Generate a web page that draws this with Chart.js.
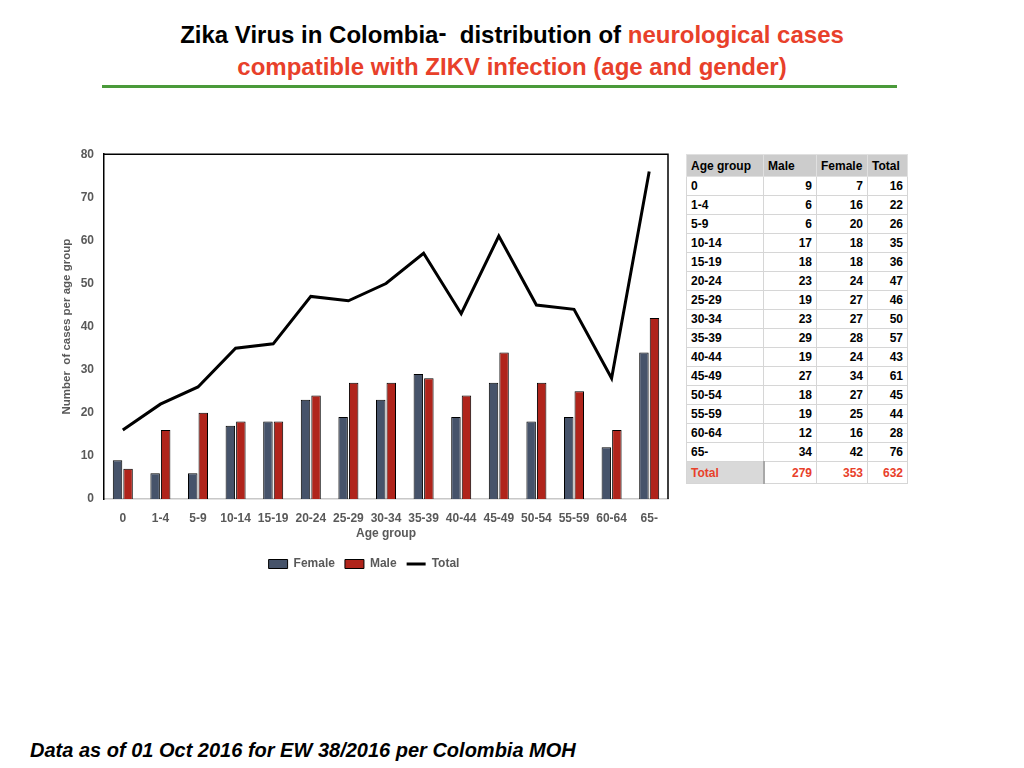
<!DOCTYPE html>
<html>
<head>
<meta charset="utf-8">
<script src="https://cdn.jsdelivr.net/npm/chart.js@4.4.1/dist/chart.umd.min.js"></script>
<style>
    body { margin: 0; width: 1024px; height: 768px; background: #fff; position: relative; overflow: hidden; font-family: "Liberation Sans", Arial, sans-serif; }
    .title { position: absolute; left: 0; width: 1024px; text-align: center; font-weight: bold; font-size: 24px; }
    .red { color: #e8402a; }
    .dash { position: relative; top: -2px; }
    .rule { position: absolute; left: 102px; top: 85px; width: 795px; height: 3px; background: #4a9a3a; }
    #chartBox { position: absolute; left: 60px; top: 137px; }
    table { position: absolute; left: 686px; top: 154px; border-collapse: collapse; font-size: 12px; font-weight: bold; table-layout: fixed; }
    td, th { border: 1px solid #d6d6d6; padding: 0 4px; height: 18px; }
    th { background: #cccccc; text-align: left; height: 21px; border-color: #e0e0e0; }
    td.num { text-align: right; }
    tr.total td { color: #e8402a; height: 21px; }
    tr.total td:first-child { background: #d9d9d9; border-right: 2px solid #a8a8a8; }
    .footer { position: absolute; left: 30px; top: 739px; font-size: 20px; font-weight: bold; font-style: italic; }
</style>
</head>
<body>
<div class="title" style="top: 21px;">Zika Virus in Colombia<span class="dash">-</span>&nbsp; distribution of <span class="red">neurological cases</span></div>
<div class="title red" style="top: 53px;">compatible with ZIKV infection (age and gender)</div>
<div class="rule"></div>

<div id="chartBox"><canvas id="casesChart" width="612" height="443"></canvas></div>
<table id="casesTable"></table>

<div class="footer">Data as of 01 Oct 2016 for EW 38/2016 per Colombia MOH</div>

<script>
const ageGroups = ['0', '1-4', '5-9', '10-14', '15-19', '20-24', '25-29', '30-34', '35-39', '40-44', '45-49', '50-54', '55-59', '60-64', '65-'];
// columns as printed in the table
const maleCases = [9, 6, 6, 17, 18, 23, 19, 23, 29, 19, 27, 18, 19, 12, 34];
const femaleCases = [7, 16, 20, 18, 18, 24, 27, 27, 28, 24, 34, 27, 25, 16, 42];
const totalCases = [16, 22, 26, 35, 36, 47, 46, 50, 57, 43, 61, 45, 44, 28, 76];
const yTicks = [0, 10, 20, 30, 40, 50, 60, 70, 80];

const sum = arr => arr.reduce((a, b) => a + b, 0);

// table on the right
const table = document.getElementById('casesTable');
let html = '<colgroup><col style="width:77px"><col style="width:53px"><col style="width:51px"><col style="width:40px"></colgroup>';
html += '<tr><th>Age group</th><th>Male</th><th>Female</th><th>Total</th></tr>';
ageGroups.forEach((g, i) => {
    html += `<tr><td>${g}</td><td class="num">${maleCases[i]}</td><td class="num">${femaleCases[i]}</td><td class="num">${totalCases[i]}</td></tr>`;
});
html += `<tr class="total"><td>Total</td><td class="num">${sum(maleCases)}</td><td class="num">${sum(femaleCases)}</td><td class="num">${sum(totalCases)}</td></tr>`;
table.innerHTML = html;

const tickFont = { family: 'Liberation Sans', size: 12, weight: 'bold' };
const grey = '#595959';

// top and right edges of the plot frame
const frame = {
    id: 'frame',
    afterDraw(chart) {
        const { ctx, chartArea: a } = chart;
        ctx.save();
        ctx.strokeStyle = '#000';
        ctx.lineWidth = 1.5;
        ctx.beginPath();
        ctx.moveTo(a.left, a.top);
        ctx.lineTo(a.right, a.top);
        ctx.lineTo(a.right, a.bottom);
        ctx.stroke();
        ctx.restore();
    }
};

// the picture's legend labels the first bar series "Female"
new Chart(document.getElementById('casesChart').getContext('2d'), {
    data: {
        labels: ageGroups,
        datasets: [{
            type: 'bar',
            label: 'Female',
            data: maleCases,
            backgroundColor: '#46536a',
            borderColor: '#000',
            borderWidth: 1,
            pointStyle: 'rect',
            barPercentage: 0.9,
            categoryPercentage: 0.56
        }, {
            type: 'bar',
            label: 'Male',
            data: femaleCases,
            backgroundColor: '#b0241b',
            borderColor: '#000',
            borderWidth: 1,
            pointStyle: 'rect',
            barPercentage: 0.9,
            categoryPercentage: 0.56
        }, {
            type: 'line',
            label: 'Total',
            data: totalCases,
            borderColor: '#000',
            backgroundColor: '#000',
            borderWidth: 3,
            pointRadius: 0,
            pointStyle: 'line',
            tension: 0
        }]
    },
    options: {
        responsive: false,
        animation: false,
        layout: { padding: { top: 3, right: 4, left: 0, bottom: 0 } },
        plugins: {
            tooltip: { enabled: false },
            legend: {
                position: 'bottom',
                labels: {
                    usePointStyle: true,
                    pointStyleWidth: 19,
                    boxHeight: 9,
                    padding: 10,
                    color: grey,
                    font: tickFont
                }
            }
        },
        scales: {
            x: {
                grid: { display: false, drawTicks: false },
                border: { color: '#c8c8c8', width: 1.5 },
                ticks: { color: grey, font: tickFont, padding: 12, maxRotation: 0, autoSkip: false },
                title: { display: true, text: 'Age group', color: grey, font: tickFont, padding: { top: 2, bottom: 7 } },
                afterFit(scale) { scale.height = 49; }
            },
            y: {
                min: 0,
                max: 80,
                afterBuildTicks(scale) { scale.ticks = yTicks.map(v => ({ value: v })); },
                grid: { display: false, drawTicks: false },
                border: { color: '#000', width: 1.5 },
                ticks: { color: grey, font: tickFont, padding: 10 },
                title: { display: true, text: 'Number  of cases per age group', color: grey, font: { ...tickFont, size: 11.5 }, padding: 0 },
                afterFit(scale) { scale.width = 44; }
            }
        }
    },
    plugins: [frame]
});
</script>
</body>
</html>
